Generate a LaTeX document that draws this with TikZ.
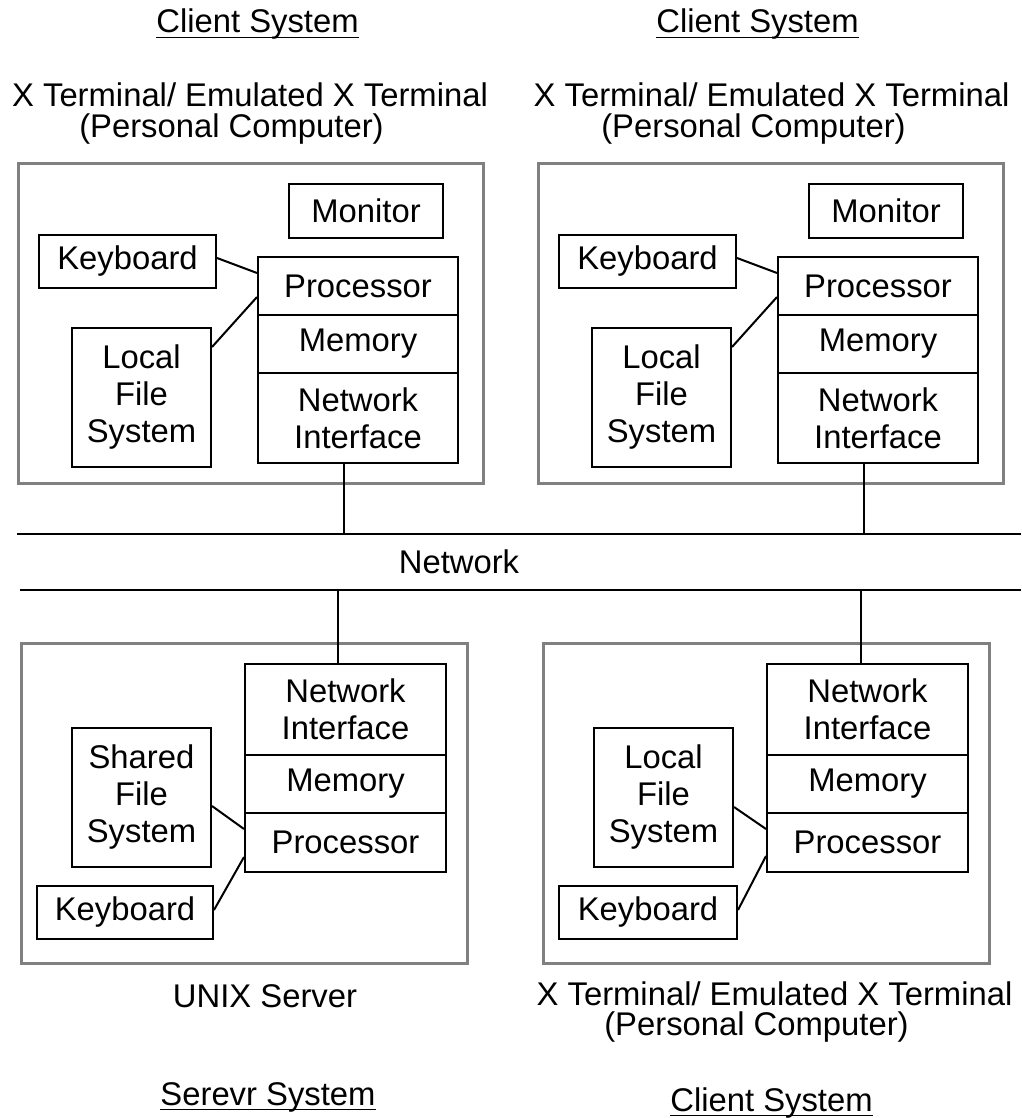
\documentclass[tikz,border=0pt]{standalone}
\usepackage{fontspec}
\setmainfont{Liberation Sans}
\definecolor{framegray}{HTML}{808080}
\begin{document}
\begin{tikzpicture}[x=1pt,y=-1pt,
  txt/.style={font=\fontsize{32.8}{37}\selectfont},
  cell/.style={txt, draw=black, line width=2pt, inner sep=0pt, align=center},
  frame/.style={draw=framegray, line width=3pt, inner sep=0pt},
  caption/.style={txt, anchor=base, inner sep=0pt},
  wire/.style={draw=black, line width=2pt},
  netline/.style={draw=black, line width=2.5pt},
  uline/.style={draw=black, line width=1.8pt}
]
\useasboundingbox (0,0) rectangle (1021,1118);

% ---------- network backbone ----------
\coordinate (netTL) at (17,534);
\coordinate (netTR) at (1021,534);
\coordinate (netBL) at (20,590);
\coordinate (netBR) at (1021,590);
\draw[netline] (netTL) -- (netTR);
\draw[netline] (netBL) -- (netBR);
\node[caption] (netlbl) at (459,573.5) {Network};
\coordinate (tapA) at (344,534);
\coordinate (tapB) at (864,534);
\coordinate (tapC) at (338,590);
\coordinate (tapD) at (861,590);

% ---------- client A (top left) ----------
\node[caption] (capA1) at (257.5,33) {Client System};
\draw[uline] ([yshift=-4.5]capA1.base west) -- ([yshift=-4.5]capA1.base east);
\node[caption] (capA2) at (250,107) {X Terminal/ Emulated X Terminal};
\node[caption] (capA3) at (231.5,138) {(Personal Computer)};
\node[frame, minimum width=465, minimum height=319] (pcA) at (250.5,323.5) {};
\node[cell, minimum width=154, minimum height=54] (monA) at (366,211) {Monitor};
\node[cell, minimum width=177, minimum height=53] (kbA) at (127.5,261.5) {Keyboard};
\node[cell, minimum width=200, minimum height=58] (procA) at (358,286) {Processor};
\node[cell, minimum width=200, minimum height=58] (memA) at (358,344) {Memory};
\node[cell, minimum width=200, minimum height=90] (niA) at (358,418) {Network\\Interface};
\node[cell, minimum width=139, minimum height=139] (fsA) at (141.5,397.5) {Local\\File\\System};
\draw[wire] ([yshift=3.5]kbA.east) -- ([yshift=13]procA.west);
\draw[wire] ([yshift=50.5]fsA.east) -- ([yshift=-11]procA.west);
\draw[wire] ([xshift=-14]niA.south) -- (tapA);

% ---------- client B (top right) ----------
\node[caption] (capB1) at (757.5,33) {Client System};
\draw[uline] ([yshift=-4.5]capB1.base west) -- ([yshift=-4.5]capB1.base east);
\node[caption] (capB2) at (771.5,107) {X Terminal/ Emulated X Terminal};
\node[caption] (capB3) at (753.5,138) {(Personal Computer)};
\node[frame, minimum width=465, minimum height=319] (pcB) at (770.5,323.5) {};
\node[cell, minimum width=154, minimum height=54] (monB) at (886,211) {Monitor};
\node[cell, minimum width=177, minimum height=53] (kbB) at (647.5,261.5) {Keyboard};
\node[cell, minimum width=200, minimum height=58] (procB) at (878,286) {Processor};
\node[cell, minimum width=200, minimum height=58] (memB) at (878,344) {Memory};
\node[cell, minimum width=200, minimum height=90] (niB) at (878,418) {Network\\Interface};
\node[cell, minimum width=139, minimum height=139] (fsB) at (661.5,397.5) {Local\\File\\System};
\draw[wire] ([yshift=3.5]kbB.east) -- ([yshift=13]procB.west);
\draw[wire] ([yshift=50.5]fsB.east) -- ([yshift=-11]procB.west);
\draw[wire] ([xshift=-14]niB.south) -- (tapB);

% ---------- UNIX server (bottom left) ----------
\node[frame, minimum width=446, minimum height=320] (srv) at (244,803) {};
\node[cell, minimum width=201, minimum height=91] (niC) at (345.5,709.5) {Network\\Interface};
\node[cell, minimum width=201, minimum height=58] (memC) at (345.5,784) {Memory};
\node[cell, minimum width=201, minimum height=59] (procC) at (345.5,842.5) {Processor};
\node[cell, minimum width=139, minimum height=139] (fsC) at (141.5,797.5) {Shared\\File\\System};
\node[cell, minimum width=176, minimum height=53] (kbC) at (125,912.5) {Keyboard};
\draw[wire] ([yshift=-8.5]fsC.east) -- ([yshift=13.5]procC.west);
\draw[wire] ([yshift=2.5]kbC.east) -- ([yshift=-14.5]procC.west);
\draw[wire] (tapC) -- ([xshift=-7.5]niC.north);
\node[caption] (capC1) at (265,1007) {UNIX Server};
\node[caption] (capC2) at (268,1105) {Serevr System};
\draw[uline] ([yshift=-4.5]capC2.base west) -- ([yshift=-4.5]capC2.base east);

% ---------- client D (bottom right) ----------
\node[frame, minimum width=446, minimum height=320] (pcD) at (766,803) {};
\node[cell, minimum width=201, minimum height=91] (niD) at (867.5,709.5) {Network\\Interface};
\node[cell, minimum width=201, minimum height=58] (memD) at (867.5,784) {Memory};
\node[cell, minimum width=201, minimum height=59] (procD) at (867.5,842.5) {Processor};
\node[cell, minimum width=139, minimum height=139] (fsD) at (663.5,797.5) {Local\\File\\System};
\node[cell, minimum width=178, minimum height=53] (kbD) at (648,912.5) {Keyboard};
\draw[wire] ([yshift=-9.5]fsD.east) -- ([yshift=13.5]procD.west);
\draw[wire] ([yshift=2.5]kbD.east) -- ([yshift=-13.5]procD.west);
\draw[wire] (tapD) -- ([xshift=-6.5]niD.north);
\node[caption] (capD2) at (774.5,1005) {X Terminal/ Emulated X Terminal};
\node[caption] (capD3) at (756.5,1035) {(Personal Computer)};
\node[caption] (capD1) at (771.5,1111) {Client System};
\draw[uline] ([yshift=-4.5]capD1.base west) -- ([yshift=-4.5]capD1.base east);
\end{tikzpicture}
\end{document}
